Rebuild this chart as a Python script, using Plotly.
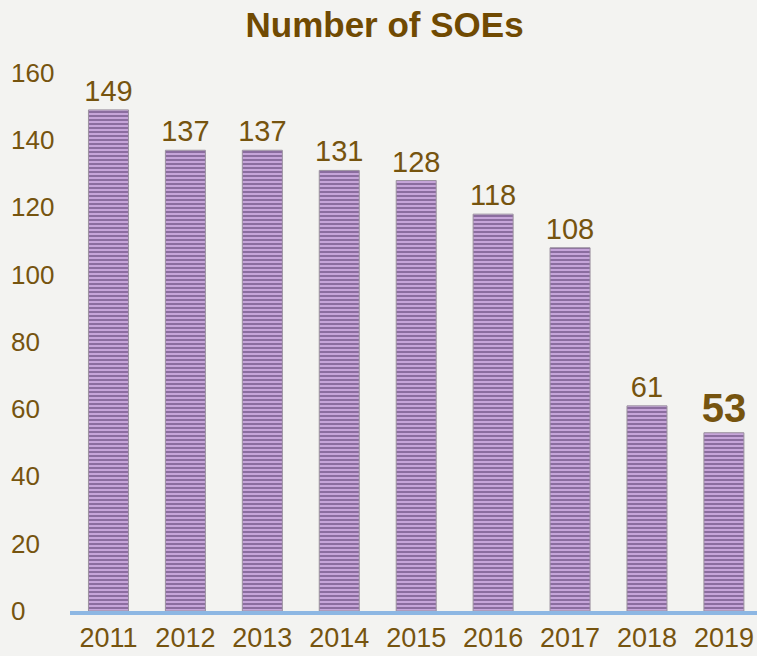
import plotly.graph_objects as go

years = ["2011", "2012", "2013", "2014", "2015", "2016", "2017", "2018", "2019"]
counts = [149, 137, 137, 131, 128, 118, 108, 61, 53]
y_ticks = [0, 20, 40, 60, 80, 100, 120, 140, 160]
title_text = "Number of SOEs"

labels = [str(v) for v in counts]
labels[-1] = "<b>" + labels[-1] + "</b>"
label_sizes = [29] * (len(counts) - 1) + [40]

brown = "#76540f"
font_family = "Liberation Sans, Arial"
fig = go.Figure()
fig.add_trace(go.Bar(
    x=years, y=counts,
    width=0.52,
    marker=dict(
        color="#c0a0d2",
        line=dict(color="#9b919f", width=1),
        pattern=dict(shape="-", fgcolor="#4f3566", bgcolor="#c6a5d9", size=4, solidity=0.5),
    ),
    text=labels,
    textposition="outside",
    textfont=dict(family=font_family, size=label_sizes, color=brown),
    constraintext="none",
    cliponaxis=False,
    hoverinfo="skip",
))

for t in y_ticks:
    fig.add_annotation(
        x=0.012, xref="paper", xanchor="left",
        y=t, yref="y", yanchor="middle",
        text=str(t), showarrow=False,
        font=dict(family=font_family, size=26, color=brown),
    )

fig.update_layout(
    width=757, height=656,
    margin=dict(l=0, r=0, t=46, b=45),
    paper_bgcolor="#f3f3f1",
    plot_bgcolor="#f3f3f1",
    showlegend=False,
    title=dict(text="<b>" + title_text + "</b>", x=0.508, xanchor="center", y=0.962, yanchor="middle",
               font=dict(family=font_family, size=35, color="#704a02")),
    xaxis=dict(
        domain=[70 / 757, 1],
        range=[-0.5, 8.43],
        showline=True, linecolor="#8db7e3", linewidth=4,
        showgrid=False, ticks="",
        tickfont=dict(family=font_family, size=27, color=brown),
        fixedrange=True,
    ),
    yaxis=dict(
        range=[0, 168],
        showticklabels=False,
        showline=False, showgrid=False, zeroline=False, ticks="",
    ),
)

fig.write_html("out.html")
